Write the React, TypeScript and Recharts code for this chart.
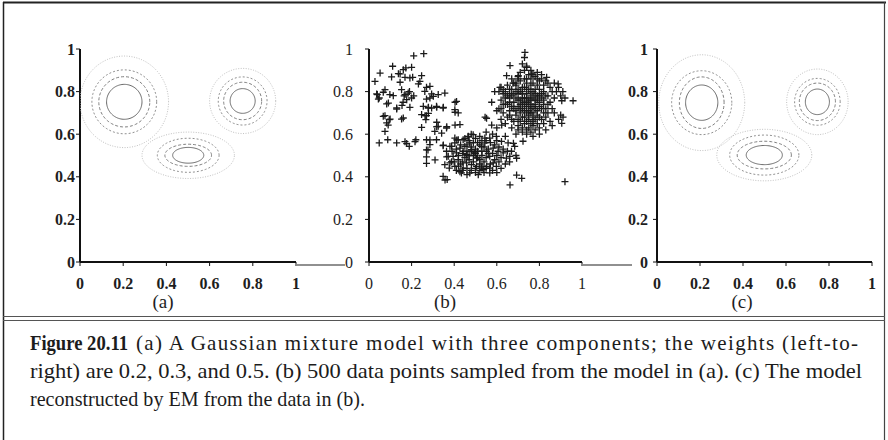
import React from 'react';
import { ScatterChart, Scatter, XAxis, YAxis } from 'recharts';

// ---------- data ----------
const axisTicks = [0, 0.2, 0.4, 0.6, 0.8, 1];
const panelLabels = ['(a)', '(b)', '(c)'];

// Gaussian components: centres and contour radii (inner -> outer) [rx, ry]
const trueCenters: [number, number][] = [[0.205, 0.752], [0.501, 0.501], [0.753, 0.756]];
const trueRadii: [number, number][][] = [
  [[0.082, 0.082], [0.118, 0.118], [0.15, 0.15], [0.205, 0.215]],
  [[0.072, 0.037], [0.108, 0.052], [0.143, 0.08], [0.214, 0.109]],
  [[0.058, 0.058], [0.088, 0.088], [0.113, 0.113], [0.153, 0.153]],
];
const emCenters: [number, number][] = [[0.208, 0.748], [0.499, 0.502], [0.746, 0.752]];
const emRadii: [number, number][][] = [
  [[0.075, 0.083], [0.104, 0.121], [0.14, 0.15], [0.2, 0.225]],
  [[0.084, 0.045], [0.126, 0.065], [0.161, 0.094], [0.221, 0.121]],
  [[0.056, 0.06], [0.084, 0.088], [0.106, 0.11], [0.143, 0.154]],
];

// samples
const leftSamples: [number, number][] = [
  [0.21,0.968],[0.257,0.978],[0.028,0.848],[0.052,0.887],[0.039,0.786],[0.048,0.77],[0.075,0.809],[0.111,0.919],
  [0.106,0.869],[0.138,0.884],[0.161,0.903],[0.173,0.911],[0.2,0.914],[0.192,0.864],[0.247,0.875],[0.239,0.848],
  [0.146,0.883],[0.169,0.867],[0.205,0.867],[0.146,0.844],[0.232,0.836],[0.27,0.82],[0.036,0.789],[0.067,0.797],
  [0.114,0.781],[0.153,0.809],[0.169,0.786],[0.184,0.793],[0.2,0.77],[0.177,0.762],[0.16,0.75],[0.165,0.78],
  [0.19,0.8],[0.21,0.78],[0.155,0.735],[0.13,0.723],[0.098,0.786],[0.091,0.746],[0.044,0.765],[0.083,0.742],
  [0.13,0.718],[0.192,0.726],[0.067,0.684],[0.075,0.687],[0.099,0.671],[0.153,0.671],[0.263,0.687],[0.095,0.668],
  [0.083,0.653],[0.09,0.643],[0.161,0.676],[0.075,0.613],[0.048,0.559],[0.088,0.574],[0.13,0.559],[0.177,0.556],
  [0.22,0.574],[0.189,0.543],[0.169,0.565],[0.216,0.565],[0.247,0.632],[0.267,0.668],[0.255,0.731],[0.247,0.692],
  [0.278,0.723],[0.294,0.723],[0.317,0.731],[0.348,0.723],[0.286,0.77],[0.262,0.801],[0.286,0.825],[0.302,0.778],
  [0.325,0.786],[0.356,0.793],[0.27,0.574],[0.27,0.526],[0.27,0.494],[0.27,0.463],[0.286,0.551],[0.317,0.574],
  [0.309,0.613],[0.325,0.637],[0.341,0.605],[0.364,0.629],[0.348,0.546],[0.372,0.496],[0.348,0.402],[0.367,0.387],
  [0.38,0.543],[0.403,0.582],[0.411,0.754],[0.403,0.715],[0.419,0.7],[0.427,0.645],[0.294,0.789],[0.27,0.765],
  [0.279,0.726],[0.318,0.726],[0.349,0.726],[0.404,0.75],[0.404,0.703],[0.27,0.687],[0.318,0.656],[0.279,0.698],
  [0.318,0.635],[0.365,0.635],[0.404,0.643],[0.286,0.573],[0.349,0.549],[0.412,0.573],[0.465,0.588],[0.277,0.526],
  [0.365,0.494],[0.31,0.479],[0.388,0.471],[0.357,0.385],[0.427,0.424],
];
const middleSamples: [number, number][] = [
  [0.356,0.457],[0.38,0.465],[0.377,0.441],[0.395,0.496],[0.411,0.512],[0.419,0.48],[0.403,0.449],[0.427,0.535],
  [0.442,0.52],[0.458,0.504],[0.45,0.543],[0.473,0.559],[0.481,0.527],[0.497,0.512],[0.505,0.488],[0.52,0.48],
  [0.528,0.543],[0.544,0.559],[0.552,0.52],[0.567,0.496],[0.583,0.465],[0.598,0.449],[0.567,0.441],[0.552,0.449],
  [0.528,0.441],[0.505,0.449],[0.481,0.457],[0.458,0.465],[0.442,0.441],[0.434,0.418],[0.473,0.418],[0.513,0.41],
  [0.536,0.434],[0.567,0.418],[0.583,0.535],[0.606,0.52],[0.63,0.512],[0.645,0.488],[0.661,0.496],[0.669,0.52],
  [0.684,0.543],[0.653,0.559],[0.622,0.566],[0.598,0.59],[0.567,0.582],[0.544,0.582],[0.52,0.59],[0.489,0.598],
  [0.466,0.59],[0.442,0.574],[0.419,0.574],[0.403,0.559],[0.388,0.543],[0.364,0.52],[0.47,0.5],[0.49,0.47],
  [0.51,0.52],[0.53,0.5],[0.55,0.49],[0.5,0.53],[0.48,0.54],[0.46,0.52],[0.52,0.46],[0.54,0.47],[0.56,0.53],
  [0.58,0.51],[0.6,0.5],[0.49,0.5],[0.51,0.49],[0.53,0.52],[0.47,0.48],[0.45,0.49],[0.44,0.47],[0.5,0.44],
  [0.52,0.43],[0.55,0.44],[0.57,0.46],[0.59,0.48],[0.61,0.47],[0.62,0.49],[0.63,0.53],[0.61,0.54],[0.59,0.55],
  [0.57,0.56],[0.55,0.57],[0.53,0.57],[0.51,0.56],[0.49,0.56],[0.47,0.57],[0.46,0.55],[0.43,0.55],[0.42,0.5],
  [0.43,0.46],[0.46,0.44],[0.48,0.43],[0.54,0.42],[0.58,0.43],[0.6,0.42],[0.62,0.44],[0.64,0.46],[0.65,0.52],
  [0.66,0.47],[0.6,0.57],[0.58,0.6],[0.55,0.61],[0.5,0.58],[0.48,0.6],[0.45,0.58],[0.41,0.53],[0.39,0.52],
  [0.4,0.47],[0.42,0.45],[0.44,0.43],[0.41,0.43],[0.46,0.41],[0.5,0.42],[0.53,0.45],[0.56,0.51],[0.54,0.54],
  [0.52,0.55],[0.5,0.51],[0.48,0.52],[0.46,0.5],[0.44,0.51],[0.552,0.675],[0.576,0.643],[0.623,0.643],
  [0.678,0.557],[0.723,0.567],[0.693,0.487],[0.693,0.408],[0.717,0.393],[0.662,0.362],[0.6,0.63],[0.64,0.59],
  [0.69,0.5],[0.92,0.377],
];
const rightSamples: [number, number][] = [
  [0.732,0.984],[0.662,0.922],[0.74,0.914],[0.646,0.875],[0.701,0.875],[0.676,0.84],[0.615,0.82],[0.576,0.75],
  [0.545,0.68],[0.6,0.71],[0.764,0.883],[0.834,0.867],[0.888,0.836],[0.905,0.757],[0.958,0.757],[0.911,0.68],
  [0.905,0.651],[0.59,0.8],[0.61,0.8],[0.63,0.81],[0.64,0.8],[0.65,0.78],[0.62,0.76],[0.64,0.74],[0.61,0.72],
  [0.63,0.7],[0.66,0.69],[0.68,0.72],[0.66,0.75],[0.67,0.78],[0.69,0.8],[0.69,0.83],[0.71,0.85],[0.72,0.82],
  [0.73,0.86],[0.74,0.84],[0.75,0.88],[0.76,0.86],[0.77,0.84],[0.78,0.87],[0.79,0.83],[0.8,0.85],[0.81,0.86],
  [0.82,0.83],[0.83,0.85],[0.85,0.82],[0.86,0.8],[0.84,0.78],[0.85,0.75],[0.87,0.77],[0.88,0.8],[0.86,0.72],
  [0.84,0.7],[0.83,0.68],[0.85,0.66],[0.82,0.65],[0.8,0.63],[0.78,0.62],[0.76,0.61],[0.74,0.62],[0.72,0.63],
  [0.7,0.64],[0.68,0.66],[0.7,0.67],[0.72,0.68],[0.74,0.66],[0.76,0.65],[0.78,0.67],[0.8,0.68],[0.82,0.7],
  [0.81,0.72],[0.79,0.71],[0.77,0.7],[0.75,0.69],[0.73,0.71],[0.71,0.7],[0.69,0.71],[0.7,0.73],[0.72,0.74],
  [0.74,0.73],[0.76,0.72],[0.78,0.74],[0.8,0.75],[0.82,0.76],[0.83,0.78],[0.81,0.79],[0.79,0.78],[0.77,0.77],
  [0.75,0.76],[0.73,0.77],[0.71,0.76],[0.69,0.77],[0.7,0.79],[0.72,0.8],[0.74,0.79],[0.76,0.8],[0.78,0.81],
  [0.8,0.81],[0.82,0.8],[0.8,0.78],[0.76,0.78],[0.74,0.81],[0.72,0.77],[0.75,0.74],[0.77,0.73],[0.74,0.75],
  [0.73,0.74],[0.76,0.74],[0.75,0.71],[0.73,0.68],[0.75,0.67],[0.77,0.66],[0.79,0.69],[0.78,0.72],[0.76,0.7],
  [0.74,0.7],[0.72,0.72],[0.7,0.76],[0.71,0.74],[0.68,0.75],[0.67,0.73],[0.66,0.71],[0.65,0.68],[0.67,0.67],
  [0.69,0.69],[0.71,0.66],[0.73,0.65],[0.75,0.63],[0.77,0.64],[0.79,0.65],[0.81,0.67],[0.83,0.72],[0.84,0.74],
  [0.82,0.74],[0.8,0.73],[0.78,0.76],[0.76,0.76],[0.74,0.77],[0.72,0.79],[0.7,0.81],[0.68,0.79],[0.66,0.81],
  [0.65,0.83],[0.67,0.86],[0.7,0.87],[0.73,0.9],[0.74,0.92],[0.76,0.9],[0.79,0.89],[0.81,0.88],[0.84,0.84],
  [0.87,0.84],[0.89,0.82],[0.9,0.78],[0.91,0.8],[0.92,0.77],[0.9,0.69],[0.89,0.67],[0.87,0.7],[0.86,0.64],
  [0.83,0.62],[0.8,0.6],[0.77,0.59],[0.74,0.6],[0.72,0.61],[0.7,0.62],[0.69,0.6],[0.67,0.63],[0.64,0.65],
  [0.62,0.67],[0.62,0.72],[0.63,0.74],[0.64,0.77],[0.66,0.77],[0.67,0.81],[0.69,0.84],[0.7,0.86],[0.71,0.89],
  [0.72,0.93],[0.73,0.96],[0.77,0.68],[0.79,0.76],[0.81,0.77],[0.75,0.81],[0.77,0.8],[0.73,0.82],[0.71,0.8],
  [0.71,0.72],[0.73,0.75],[0.78,0.79],[0.76,0.83],[0.79,0.86],[0.74,0.86],[0.77,0.88],[0.68,0.84],[0.66,0.79],
  [0.65,0.74],[0.63,0.79],[0.62,0.82],
];

const captionHead = 'Figure 20.11';
const captionLines = [
  '(a) A Gaussian mixture model with three components; the weights (left-to-',
  'right) are 0.2, 0.3, and 0.5. (b) 500 data points sampled from the model in (a). (c) The model',
  'reconstructed by EM from the data in (b).',
];

// ---------- rendering helpers ----------
const FONT = '"Liberation Serif", "Times New Roman", serif';
const levelStyles = [
  { stroke: '#6a6a6a', width: 1, dash: undefined as string | undefined },
  { stroke: '#7e7e7e', width: 1, dash: '3 2' },
  { stroke: '#909090', width: 1, dash: '2 2' },
  { stroke: '#c2c2c2', width: 1, dash: '1 1.5' },
];

function outline(c: [number, number], r: [number, number]) {
  const pts: { x: number; y: number }[] = [];
  const n = 96;
  for (let i = 0; i <= n; i++) {
    const t = (i / n) * Math.PI * 2;
    pts.push({ x: c[0] + r[0] * Math.cos(t), y: c[1] + r[1] * Math.sin(t) });
  }
  return pts;
}

const Empty = () => <g />;
const PlusMark = (p: any) => (
  <path
    d={`M${p.cx - 3.5},${p.cy}h7M${p.cx},${p.cy - 3.5}v7`}
    stroke="#1b1b1b"
    strokeWidth={1.3}
    fill="none"
  />
);

type PanelProps = {
  left: number;
  width: number;
  marginLeft: number;
  yTickMargin: number;
  bold: boolean;
  children: React.ReactNode;
};

function Panel({ left, width, marginLeft, yTickMargin, bold, children }: PanelProps) {
  const tickStyle = { fontFamily: FONT, fontSize: 16, fill: '#1e1e1e', fontWeight: bold ? 700 : 400 };
  return (
    <div style={{ position: 'absolute', left, top: 0 }}>
      <ScatterChart width={width} height={310} margin={{ top: 49, right: 10, bottom: 8, left: marginLeft }}>
        <XAxis
          type="number"
          dataKey="x"
          domain={[0, 1]}
          ticks={axisTicks}
          allowDataOverflow
          height={40}
          stroke="#111"
          strokeWidth={2}
          tickSize={4}
          tickMargin={12}
          tick={tickStyle}
          tickLine={{ stroke: '#111', strokeWidth: 1 }}
        />
        <YAxis
          type="number"
          dataKey="y"
          domain={[0, 1]}
          ticks={axisTicks}
          allowDataOverflow
          width={40}
          stroke="#111"
          strokeWidth={2}
          tickSize={4}
          tickMargin={yTickMargin}
          tick={tickStyle}
          tickLine={{ stroke: '#111', strokeWidth: 1 }}
        />
        {children}
      </ScatterChart>
    </div>
  );
}

function contourSeries(centers: [number, number][], radii: [number, number][][], key: string) {
  const out: React.ReactNode[] = [];
  centers.forEach((c, ci) => {
    radii[ci].forEach((r, li) => {
      const s = levelStyles[li];
      out.push(
        <Scatter
          key={`${key}-${ci}-${li}`}
          data={outline(c, r)}
          line={{ stroke: s.stroke, strokeWidth: s.width, strokeDasharray: s.dash }}
          lineType="joint"
          shape={Empty}
          stroke={s.stroke}
          fill="none"
          isAnimationActive={false}
        />
      );
    });
  });
  return out;
}

const toPts = (a: [number, number][]) => a.map(([x, y]) => ({ x, y }));

export default function App() {
  const labelStyle: React.CSSProperties = {
    position: 'absolute',
    top: 290,
    fontFamily: FONT,
    fontSize: 19,
    color: '#1e1e1e',
    transform: 'translateX(-50%)',
    lineHeight: '24px',
  };
  return (
    <div style={{ position: 'absolute', left: 0, top: 0, width: 888, height: 440, background: '#fff', overflow: 'hidden' }}>
      <svg width={888} height={440} style={{ position: 'absolute', left: 0, top: 0 }}>
        <line x1={3} y1={2.5} x2={886} y2={2.5} stroke="#222" strokeWidth={2} />
        <line x1={3.5} y1={2} x2={3.5} y2={440} stroke="#222" strokeWidth={1.5} />
        <line x1={884.5} y1={2} x2={884.5} y2={440} stroke="#444" strokeWidth={1.2} />
        <line x1={3} y1={316.5} x2={885} y2={316.5} stroke="#555" strokeWidth={1.2} />
        <line x1={3} y1={320.5} x2={885} y2={320.5} stroke="#555" strokeWidth={1.2} />
        <line x1={297} y1={265} x2={345} y2={265} stroke="#222" strokeWidth={1.2} />
        <line x1={583} y1={265} x2={632} y2={265} stroke="#222" strokeWidth={1.2} />
        <g fontFamily={FONT} fill="#1c1c1c">
          <text x={30} y={350} fontSize={21} fontWeight={700} textLength={98} lengthAdjust="spacingAndGlyphs">
            {captionHead}
          </text>
          <text x={136} y={350} fontSize={21} textLength={722} lengthAdjust="spacing">
            {captionLines[0]}
          </text>
          <text x={30} y={378} fontSize={21} textLength={832} lengthAdjust="spacingAndGlyphs">
            {captionLines[1]}
          </text>
          <text x={30} y={406} fontSize={21} textLength={335} lengthAdjust="spacingAndGlyphs">
            {captionLines[2]}
          </text>
        </g>
      </svg>

      <Panel left={0} width={306} marginLeft={40} yTickMargin={1} bold>
        {contourSeries(trueCenters, trueRadii, 'a')}
      </Panel>
      <Panel left={300} width={292} marginLeft={29} yTickMargin={12} bold={false}>
        <Scatter data={toPts(leftSamples)} shape={PlusMark} isAnimationActive={false} />
        <Scatter data={toPts(middleSamples)} shape={PlusMark} isAnimationActive={false} />
        <Scatter data={toPts(rightSamples)} shape={PlusMark} isAnimationActive={false} />
      </Panel>
      <Panel left={600} width={282} marginLeft={17} yTickMargin={5} bold>
        {contourSeries(emCenters, emRadii, 'c')}
      </Panel>

      <div style={{ ...labelStyle, left: 163 }}>{panelLabels[0]}</div>
      <div style={{ ...labelStyle, left: 445 }}>{panelLabels[1]}</div>
      <div style={{ ...labelStyle, left: 742 }}>{panelLabels[2]}</div>
    </div>
  );
}
